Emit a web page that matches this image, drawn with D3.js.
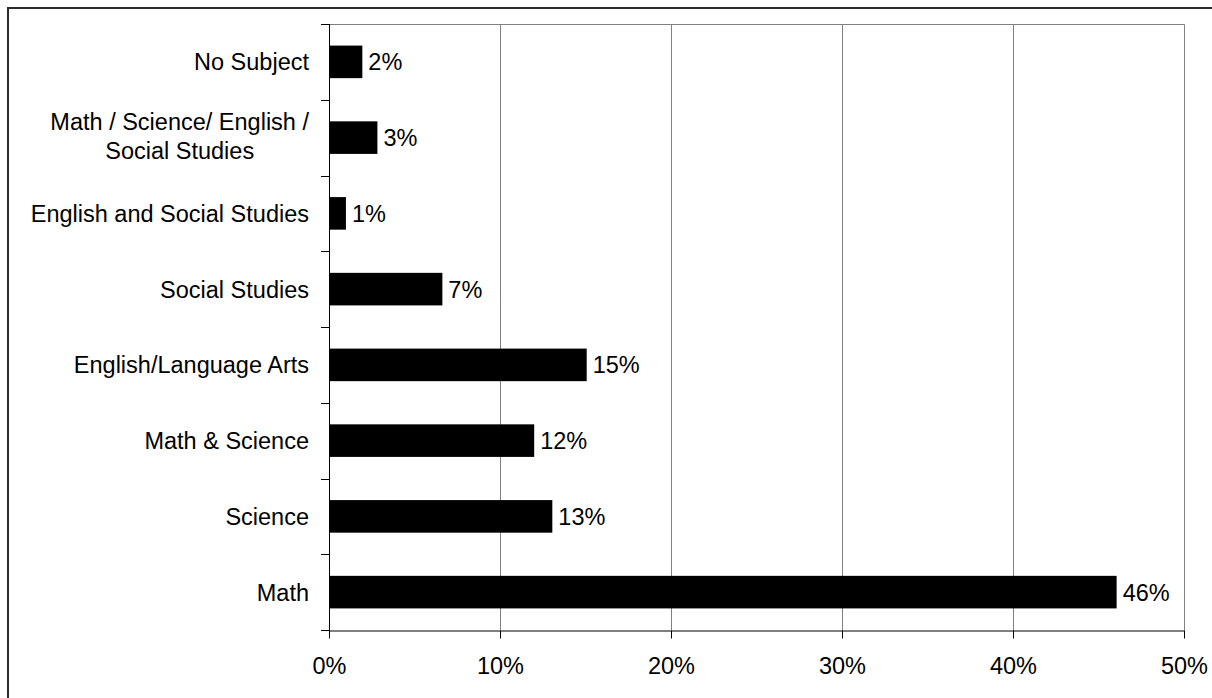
<!DOCTYPE html>
<html>
<head>
<meta charset="utf-8">
<script src="https://cdn.jsdelivr.net/npm/d3@7"></script>
<style>
  html, body { margin: 0; padding: 0; background: #fff; }
  svg { display: block; font-family: "Liberation Sans", Arial, sans-serif; }
</style>
</head>
<body>
<svg id="chart" width="1212" height="698"></svg>
<script>
// Subject categories, listed top to bottom
const categories = [
  "No Subject",
  "Math / Science/ English /\nSocial Studies",
  "English and Social Studies",
  "Social Studies",
  "English/Language Arts",
  "Math & Science",
  "Science",
  "Math"
];
// Share of respondents (percent)
const shares = [1.95, 2.83, 0.99, 6.63, 15.07, 12.0, 13.06, 46.06];
// X axis ticks (percent)
const xTicks = [0, 10, 20, 30, 40, 50];

const W = 1212, H = 698;
const plot = { left: 329, top: 24, right: 1184, bottom: 630 };
const fontSize = 23.5;

const svg = d3.select("#chart");

// outer frame
svg.append("rect")
  .attr("x", 8).attr("y", 8)
  .attr("width", W + 20).attr("height", H + 20)
  .attr("fill", "none")
  .attr("stroke", "#2b2b2b")
  .attr("stroke-width", 2);

const x = d3.scaleLinear().domain([0, 50]).range([plot.left, plot.right]);
const pad = 0.57;
const y = d3.scaleBand()
  .domain(categories)
  .range([plot.top, plot.bottom])
  .paddingInner(pad)
  .paddingOuter(pad / 2);

// gridlines
svg.append("g")
  .selectAll("line")
  .data(xTicks.filter(t => t > 0 && t < 50))
  .join("line")
  .attr("x1", d => Math.round(x(d)) + 0.5)
  .attr("x2", d => Math.round(x(d)) + 0.5)
  .attr("y1", plot.top)
  .attr("y2", plot.bottom)
  .attr("stroke", "#808080")
  .attr("stroke-width", 1);

// plot area border (top and right)
svg.append("path")
  .attr("d", `M${plot.left},${plot.top + 0.5}H${plot.right + 0.5}V${plot.bottom}`)
  .attr("fill", "none")
  .attr("stroke", "#808080")
  .attr("stroke-width", 1);

// bars
const data = categories.map((c, i) => ({ cat: c, v: shares[i] }));
svg.append("g")
  .selectAll("rect")
  .data(data)
  .join("rect")
  .attr("x", x(0))
  .attr("y", d => y(d.cat))
  .attr("width", d => x(d.v) - x(0))
  .attr("height", y.bandwidth())
  .attr("fill", "#000");

// value labels
svg.append("g")
  .selectAll("text")
  .data(data)
  .join("text")
  .attr("x", d => x(d.v) + 6)
  .attr("y", d => y(d.cat) + y.bandwidth() / 2)
  .attr("dy", "0.36em")
  .attr("font-size", fontSize)
  .attr("fill", "#000")
  .text(d => Math.round(d.v) + "%");

// x axis
const xAxis = d3.axisBottom(x)
  .tickValues(xTicks)
  .tickFormat(d => d + "%")
  .tickSize(8)
  .tickSizeOuter(0)
  .tickPadding(19);
const gx = svg.append("g")
  .attr("transform", `translate(0,${plot.bottom + 0.5})`)
  .call(xAxis);
gx.selectAll("text").attr("font-size", fontSize).attr("fill", "#000").attr("font-family", null);
gx.selectAll("line").attr("stroke", "#000");
gx.select(".domain").attr("stroke", "#000");

// y axis: line, category boundary ticks, labels
const step = y.step();
const bounds = d3.range(categories.length + 1).map(k => plot.top + k * step);
const gy = svg.append("g");
gy.append("line")
  .attr("x1", plot.left + 0.5).attr("x2", plot.left + 0.5)
  .attr("y1", plot.top).attr("y2", plot.bottom + 8)
  .attr("stroke", "#000");
gy.selectAll("line.tick")
  .data(bounds)
  .join("line")
  .attr("class", "tick")
  .attr("x1", plot.left - 8).attr("x2", plot.left + 1)
  .attr("y1", d => Math.round(d) + 0.5)
  .attr("y2", d => Math.round(d) + 0.5)
  .attr("stroke", "#000");

const lineH = 29;
const labels = gy.selectAll("text.cat")
  .data(categories)
  .join("text")
  .attr("class", "cat")
  .attr("font-size", fontSize)
  .attr("fill", "#000")
  .attr("text-anchor", "middle");

labels.each(function(d) {
  const t = d3.select(this);
  const lines = d.split("\n");
  const cy = y(d) + y.bandwidth() / 2 - (lines.length > 1 ? 2 : 0);
  lines.forEach((ln, i) => {
    t.append("tspan")
      .attr("x", 0)
      .attr("y", cy + (i - (lines.length - 1) / 2) * lineH)
      .attr("dy", "0.36em")
      .text(ln);
  });
});
// right-align each label block 20px left of the axis, lines centred on each other
labels.each(function() {
  const t = d3.select(this);
  let maxW = 0;
  t.selectAll("tspan").each(function() {
    maxW = Math.max(maxW, this.getComputedTextLength());
  });
  t.selectAll("tspan").attr("x", plot.left - 20 - maxW / 2);
});
</script>
</body>
</html>
